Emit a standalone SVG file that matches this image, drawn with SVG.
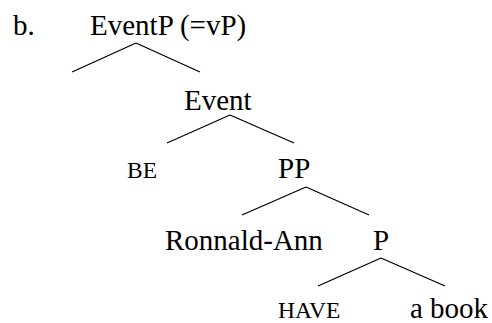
<svg xmlns="http://www.w3.org/2000/svg" width="492" height="323" viewBox="0 0 492 323">
<style>
text{font-family:'Liberation Serif',serif;fill:#000}
.m{font-size:29px}
.s{font-size:23.5px}
.e line{stroke:#000;stroke-width:1.3}
</style>
<rect width="492" height="323" fill="#fff"/>
<g id="label"><text class="m" x="13" y="35" font-family="Liberation Serif">b.</text></g>
<g id="n-eventp"><text class="m" x="90" y="35">EventP (=vP)</text></g>
<g id="n-event"><text class="m" x="184" y="110">Event</text></g>
<g id="n-be"><text class="s" x="127" y="178">BE</text></g>
<g id="n-pp"><text class="m" x="278" y="178">PP</text></g>
<g id="n-ronnald"><text class="m" x="165" y="250">Ronnald-Ann</text></g>
<g id="n-p"><text class="m" x="373" y="250">P</text></g>
<g id="n-have"><text class="s" x="278" y="318">HAVE</text></g>
<g id="n-book"><text class="m" x="410" y="318">a book</text></g>
<g id="connectors" class="e">
<line x1="136" y1="43" x2="72" y2="72"/>
<line x1="136" y1="43" x2="200" y2="72"/>
<line x1="230" y1="115" x2="167" y2="143"/>
<line x1="230" y1="115" x2="294" y2="143"/>
<line x1="306" y1="187" x2="242" y2="215"/>
<line x1="306" y1="187" x2="369" y2="215"/>
<line x1="381" y1="258" x2="318" y2="286"/>
<line x1="381" y1="258" x2="445" y2="286"/>
</g>
</svg>
